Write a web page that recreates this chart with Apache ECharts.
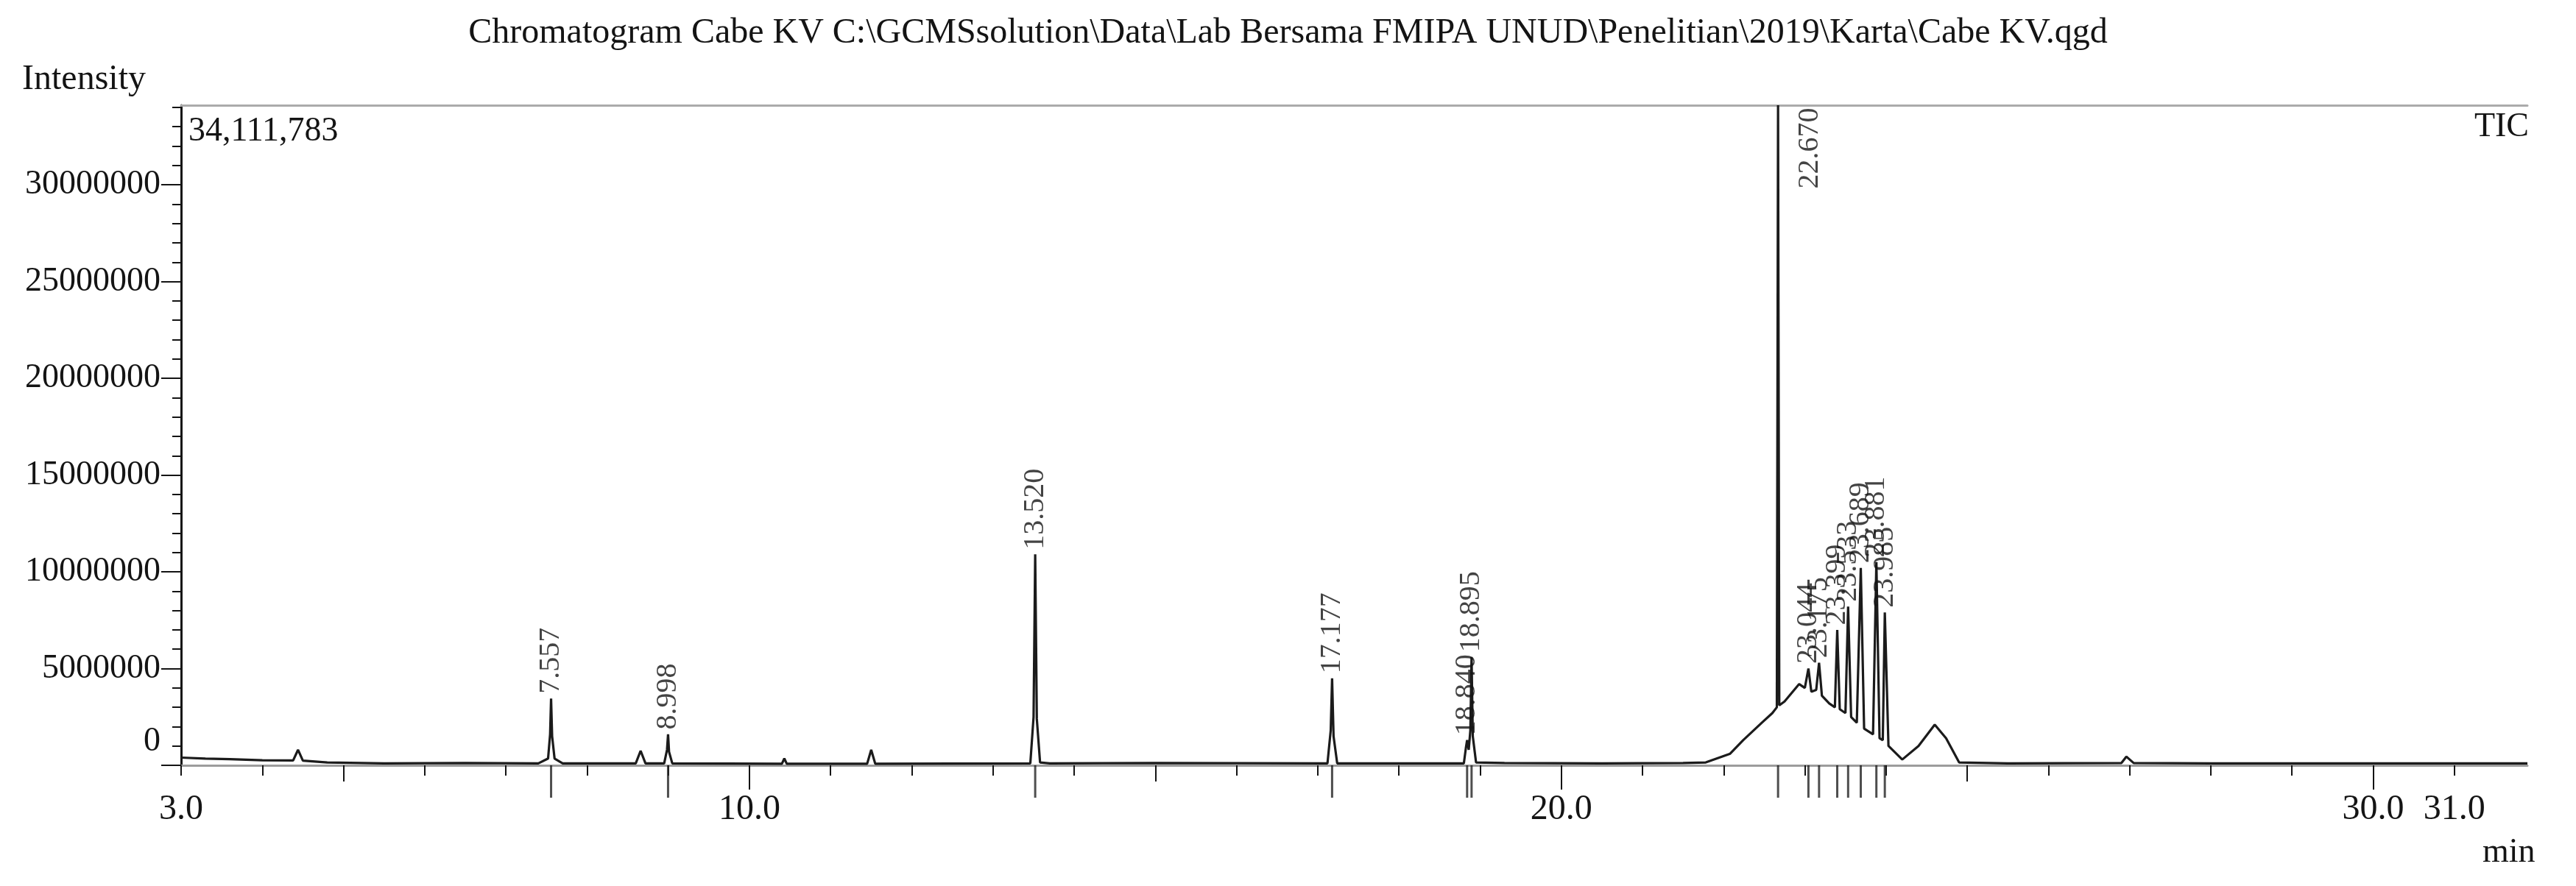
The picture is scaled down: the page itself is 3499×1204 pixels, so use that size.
<!DOCTYPE html>
<html>
<head>
<meta charset="utf-8">
<title>Chromatogram Cabe KV</title>
<script src="https://cdn.jsdelivr.net/npm/echarts@6/dist/echarts.min.js"></script>
<style>
  html, body { margin: 0; padding: 0; background: #fff; }
  #chart { width: 3499px; height: 1204px; }
</style>
</head>
<body>
<div id="chart"></div>
<script>
// TIC trace (retention time in min, intensity)
const retTimes = [
  3.00, 3.30, 3.60, 4.00, 4.38, 4.44, 4.50, 4.80, 5.50, 6.50,
  7.40, 7.52, 7.545, 7.557, 7.57, 7.60, 7.70,
  8.60, 8.66, 8.72, 8.95, 8.985, 8.998, 9.01, 9.05,
  10.40, 10.43, 10.46, 11.45, 11.50, 11.55,
  13.46, 13.50, 13.52, 13.54, 13.58, 13.70, 15.00,
  17.12, 17.16, 17.177, 17.195, 17.24,
  18.80, 18.825, 18.84, 18.86, 18.88, 18.895, 18.91, 18.95, 19.30, 20.50,
  21.50, 21.78, 22.08, 22.24, 22.47, 22.60, 22.655, 22.67, 22.685, 22.75,
  22.93, 23.00, 23.044, 23.08, 23.14, 23.175, 23.21, 23.30, 23.37, 23.399,
  23.43, 23.50, 23.533, 23.57, 23.64, 23.689, 23.73, 23.84, 23.881, 23.92,
  23.96, 23.985, 24.03, 24.20, 24.40, 24.60, 24.74, 24.90, 25.50,
  26.90, 26.96, 27.05, 28.00, 31.90
];
const intensity = [
  400000, 350000, 320000, 260000, 250000, 800000, 240000, 150000, 100000, 120000,
  100000, 350000, 1600000, 3450000, 1500000, 350000, 100000,
  100000, 750000, 100000, 100000, 800000, 1600000, 700000, 100000,
  80000, 350000, 80000, 80000, 800000, 80000,
  100000, 2500000, 10900000, 2400000, 150000, 100000, 120000,
  100000, 1800000, 4500000, 1500000, 100000,
  100000, 900000, 1300000, 800000, 1800000, 5600000, 1500000, 150000, 120000, 100000,
  120000, 150000, 600000, 1300000, 2200000, 2700000, 3000000, 34111783, 3100000, 3300000,
  4200000, 4000000, 5000000, 3800000, 3900000, 5300000, 3600000, 3200000, 3000000, 7000000,
  2900000, 2700000, 8200000, 2500000, 2200000, 10200000, 1900000, 1600000, 10500000, 1400000,
  1300000, 7900000, 1000000, 300000, 1000000, 2100000, 1400000, 150000, 100000,
  120000, 450000, 120000, 100000, 100000
];

// labelled peaks
const peakNames = ['7.557', '8.998', '13.520', '17.177', '18.840', '18.895', '22.670',
  '23.044', '23.175', '23.399', '23.533', '23.689', '23.881', '23.985'];
const peakTimes = [7.557, 8.998, 13.52, 17.177, 18.84, 18.895, 22.67,
  23.044, 23.175, 23.399, 23.533, 23.689, 23.881, 23.985];
const peakHeights = [3450000, 1600000, 10900000, 4500000, 1300000, 5600000, 34111783,
  5000000, 5300000, 7000000, 8200000, 10200000, 10500000, 7900000];

// axes
const yMax = 34111783;
const yLabelValues = [0, 5000000, 10000000, 15000000, 20000000, 25000000, 30000000];
const yTickValues = [
  0, 1000000, 2000000, 3000000, 4000000, 5000000, 6000000, 7000000, 8000000, 9000000,
  10000000, 11000000, 12000000, 13000000, 14000000, 15000000, 16000000, 17000000,
  18000000, 19000000, 20000000, 21000000, 22000000, 23000000, 24000000, 25000000,
  26000000, 27000000, 28000000, 29000000, 30000000, 31000000, 32000000, 33000000, 34000000
];
const xMin = 3.0;
const xMax = 31.9;
const xLabelValues = [3, 10, 20, 30, 31];
const xTickValues = [3, 4, 5, 6, 7, 8, 9, 10, 11, 12, 13, 14, 15, 16, 17, 18, 19, 20,
  21, 22, 23, 24, 25, 26, 27, 28, 29, 30, 31];
const xTick5 = [5, 15, 25];
const xTick10 = [10, 20, 30];

const FONT = '"Liberation Serif", "DejaVu Serif", serif';
const INK = '#141414';

const chart = echarts.init(document.getElementById('chart'));

const traceData = retTimes.map((t, i) => [t, intensity[i]]);
const peakData = peakTimes.map((t, i) => {
  const item = { value: [t, peakHeights[i]], name: peakNames[i] };
  // off-scale peak: label hangs from the top border, right of the line
  if (peakHeights[i] >= yMax) item.label = { position: [44, 4], align: 'right' };
  return item;
});
const markerData = peakTimes.map(t => [t, 0]);

const hiddenX = {
  type: 'value', min: xMin, max: xMax, position: 'bottom',
  axisLine: { show: false, onZero: false },
  axisLabel: { show: false },
  splitLine: { show: false }
};
const tickStyle = { color: INK, width: 2 };

chart.setOption({
  animation: false,
  backgroundColor: '#fff',
  title: {
    text: 'Chromatogram Cabe KV C:\\GCMSsolution\\Data\\Lab Bersama FMIPA UNUD\\Penelitian\\2019\\Karta\\Cabe KV.qgd',
    left: 'center',
    top: 16,
    textStyle: { fontFamily: FONT, fontSize: 48, fontWeight: 'normal', color: INK }
  },
  grid: { left: 246, right: 66, top: 143, bottom: 164, show: false },
  xAxis: [
    {
      type: 'value', min: xMin, max: xMax, position: 'bottom',
      axisLine: { show: true, onZero: false, lineStyle: { color: '#9c9c9c', width: 3 } },
      axisTick: { show: true, customValues: xTickValues, length: 14, lineStyle: tickStyle },
      axisLabel: {
        show: true, customValues: xLabelValues, margin: 36,
        formatter: v => v.toFixed(1),
        fontFamily: FONT, fontSize: 48, color: INK
      },
      splitLine: { show: false }
    },
    Object.assign({}, hiddenX, { axisTick: { show: true, customValues: xTick5, length: 22, lineStyle: tickStyle } }),
    Object.assign({}, hiddenX, { axisTick: { show: true, customValues: xTick10, length: 33, lineStyle: tickStyle } }),
    {
      type: 'value', min: xMin, max: xMax, position: 'top',
      axisLine: { show: true, onZero: false, lineStyle: { color: '#ababab', width: 3 } },
      axisTick: { show: false }, axisLabel: { show: false }, splitLine: { show: false }
    }
  ],
  yAxis: [
    {
      type: 'value', min: 0, max: yMax, position: 'left',
      axisLine: { show: true, onZero: false, lineStyle: { color: INK, width: 3 } },
      axisTick: { show: true, customValues: yTickValues, length: 12, lineStyle: tickStyle },
      axisLabel: {
        show: true, customValues: yLabelValues, margin: 28,
        formatter: v => (v === 0 ? '{z|0}' : String(v)),
        fontFamily: FONT, fontSize: 46, color: INK,
        rich: { z: { fontFamily: FONT, fontSize: 46, color: INK, padding: [0, 0, 64, 0] } }
      },
      splitLine: { show: false }
    },
    {
      type: 'value', min: 0, max: yMax, position: 'left',
      axisLine: { show: false, onZero: false },
      axisTick: { show: true, customValues: yLabelValues, length: 27, lineStyle: tickStyle },
      axisLabel: { show: false },
      splitLine: { show: false }
    }
  ],
  graphic: [
    { type: 'text', left: 30, top: 84, style: { text: 'Intensity', font: '48px ' + FONT, fill: INK } },
    { type: 'text', left: 256, top: 156, style: { text: yMax.toLocaleString('en-US'), font: '46px ' + FONT, fill: INK } },
    { type: 'text', right: 64, top: 150, style: { text: 'TIC', font: '46px ' + FONT, fill: INK } },
    { type: 'text', left: 3372, top: 1136, style: { text: 'min', font: '46px ' + FONT, fill: INK } }
  ],
  series: [
    {
      name: 'TIC',
      type: 'line',
      data: traceData,
      symbol: 'none',
      lineStyle: { color: '#1b1b1b', width: 3.2 },
      z: 3
    },
    {
      name: 'peak markers',
      type: 'scatter',
      data: markerData,
      symbol: 'rect',
      symbolSize: [3, 44],
      symbolOffset: [0, 22],
      itemStyle: { color: '#222' },
      clip: false,
      silent: true,
      z: 2
    },
    {
      name: 'peak labels',
      type: 'scatter',
      data: peakData,
      symbolSize: 1,
      itemStyle: { color: 'rgba(0,0,0,0)' },
      clip: false,
      silent: true,
      label: {
        show: true,
        formatter: p => p.name,
        position: 'top',
        distance: 6,
        rotate: 90,
        align: 'left',
        verticalAlign: 'middle',
        fontFamily: FONT,
        fontSize: 40,
        color: INK
      },
      labelLayout: { hideOverlap: false },
      z: 4
    }
  ]
});
</script>
</body>
</html>
